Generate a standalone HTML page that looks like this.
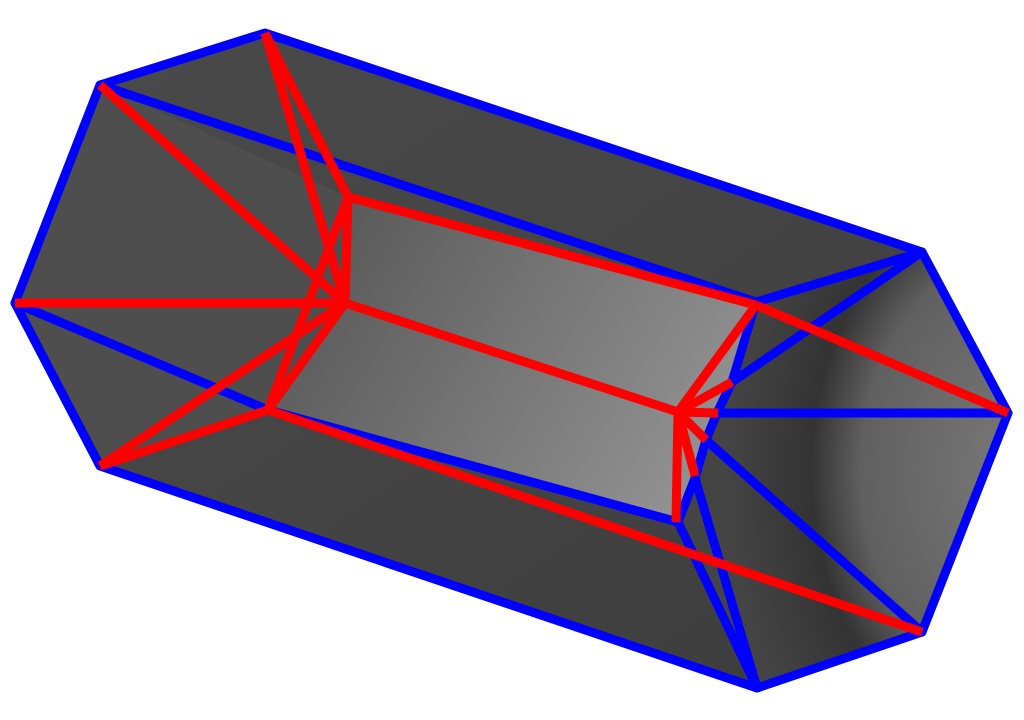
<!DOCTYPE html>
<html><head><meta charset="utf-8"><style>html,body{margin:0;padding:0;background:#fff;width:1024px;height:720px;overflow:hidden}</style></head>
<body>
<svg width="1024" height="720" viewBox="0 0 1024 720" xmlns="http://www.w3.org/2000/svg">
<defs>
<linearGradient id="body" x1="0" y1="0" x2="1" y2="1">
<stop offset="0" stop-color="#4a4a4a"/><stop offset="0.5" stop-color="#444"/><stop offset="1" stop-color="#3c3c3c"/>
</linearGradient>
<linearGradient id="panel" x1="0" y1="0.2" x2="1" y2="0.6">
<stop offset="0" stop-color="#555"/><stop offset="1" stop-color="#939393"/>
</linearGradient>
<radialGradient id="cap" cx="1.05" cy="0.5" r="0.9">
<stop offset="0" stop-color="#7a7a7a"/><stop offset="0.55" stop-color="#606060"/><stop offset="0.72" stop-color="#333"/><stop offset="1" stop-color="#444"/>
</radialGradient>
</defs>
<polygon fill="url(#body)" points="265,33 100,85 15,303 100,466 757,688 922,632 1008,413 922,252"/>
<polygon fill="#4e4e4e" points="100,85 15,303 100,466 268,410 345,303 348,197"/>
<polygon fill="url(#cap)" points="756,302 922,252 1008,413 922,632 757,688 678,522 695,478 706,440 717,413 732,382"/>
<polygon fill="url(#panel)" points="348,197 756,305 732,382 717,413 706,440 695,478 678,522 268,410 345,303"/>
<g stroke="#0000ff" stroke-width="9" stroke-linejoin="round" stroke-linecap="round" fill="none">
<polygon points="265,33 100,85 15,303 100,466 757,688 922,632 1008,413 922,252"/>
<polyline points="100,85 756,302 922,252"/>
<polyline points="15,303 268,410 678,522"/>
<polyline points="756,302 732,382 717,413 706,440 695,478 678,522 757,688"/>
<line x1="695" y1="478" x2="757" y2="688"/>
<line x1="732" y1="382" x2="922" y2="252"/>
<line x1="717" y1="413" x2="1008" y2="413"/>
<line x1="706" y1="440" x2="922" y2="632"/>
</g>
<g stroke="#ff0000" stroke-width="9" stroke-linejoin="round" stroke-linecap="butt" fill="none">
<line x1="348" y1="197" x2="756" y2="305"/>
<line x1="756" y1="305" x2="1008" y2="413"/>
<line x1="345" y1="303" x2="678" y2="412"/>
<line x1="268" y1="410" x2="922" y2="632"/>
<line x1="348" y1="197" x2="345" y2="303"/>
<line x1="348" y1="197" x2="268" y2="410"/>
<line x1="345" y1="303" x2="268" y2="410"/>
<line x1="265" y1="33" x2="348" y2="197"/>
<line x1="265" y1="33" x2="345" y2="303"/>
<line x1="100" y1="85" x2="345" y2="303"/>
<line x1="15" y1="303" x2="345" y2="303"/>
<line x1="100" y1="466" x2="345" y2="303"/>
<line x1="100" y1="466" x2="268" y2="410"/>
<line x1="678" y1="412" x2="756" y2="305"/>
<line x1="678" y1="412" x2="732" y2="382"/>
<line x1="678" y1="412" x2="718" y2="413"/>
<line x1="678" y1="412" x2="706" y2="440"/>
<line x1="678" y1="412" x2="695" y2="476"/>
<line x1="678" y1="412" x2="676" y2="522"/>
</g>
</svg>
</body></html>
